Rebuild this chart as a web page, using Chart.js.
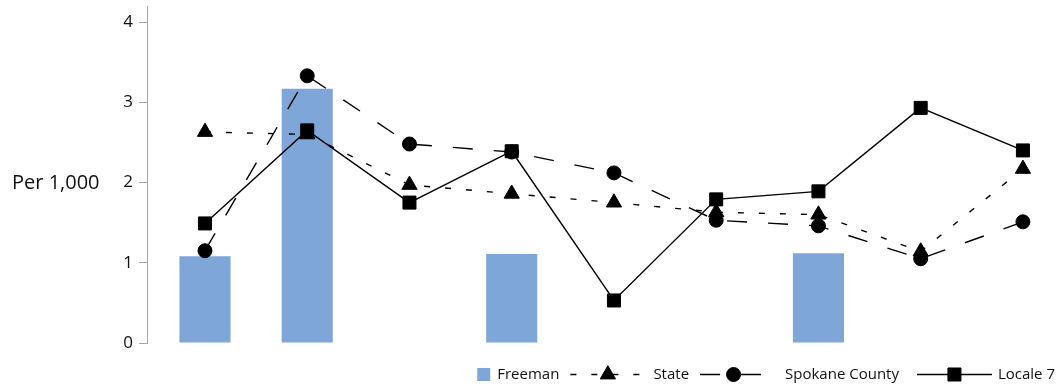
<!DOCTYPE html>
<html><head><meta charset="utf-8">
<script src="https://cdn.jsdelivr.net/npm/chart.js@4/dist/chart.umd.min.js"></script>
<style>html,body{margin:0;padding:0;background:#fff}#wrap{width:1058px;height:388px;position:relative}</style>
</head><body><div id="wrap"><canvas id="c"></canvas></div>
<script>
// ---- data ----
const categories = ['1','2','3','4','5','6','7','8','9'];
const freeman  = [1.08, 3.17, null, 1.11, null, null, 1.12, null, null];
const state    = [2.63, 2.60, 1.97, 1.86, 1.75, 1.63, 1.60, 1.14, 2.17];
const spokane  = [1.15, 3.33, 2.48, 2.38, 2.12, 1.53, 1.46, 1.05, 1.51];
const locale7  = [1.49, 2.65, 1.75, 2.39, 0.53, 1.79, 1.89, 2.93, 2.40];
const yTickValues = [0, 1, 2, 3, 4];
const seriesNames = ['Freeman', 'State', 'Spokane County', 'Locale 7'];
const yTitle = 'Per 1,000';

const toPts = arr => categories.map((c, i) => ({x: i, y: arr[i]}));
Chart.defaults.font.family = '"Open Sans", sans-serif';

const BAR = '#7ea6d8';
const legendPlugin = {
  id: 'customLegend',
  afterDraw(chart) {
    const ctx = chart.ctx;
    const ds = chart.data.datasets;
    ctx.save();
    // y title
    ctx.font = '20px "Open Sans"';
    ctx.fillStyle = '#111';
    ctx.textBaseline = 'middle';
    ctx.textAlign = 'left';
    ctx.fillText(yTitle, 12, chart.scales.y.getPixelForValue(2) + 1);
    // legend
    ctx.font = '15px "Open Sans"';
    const sampleW = [13, 75, 67, 75];
    const textGap = [7, 8, 18, 6];
    const itemGap = [11, 11, 18, 0];
    let total = 0;
    ds.forEach((d, i) => { total += sampleW[i] + textGap[i] + ctx.measureText(d.label).width + itemGap[i]; });
    let x = chart.width - 3 - total;
    const y = chart.height - 13.5;
    ds.forEach((d, i) => {
      if (d.type === 'bar') {
        ctx.fillStyle = d.backgroundColor;
        ctx.fillRect(x, y - 6.5, sampleW[i], 13);
      } else {
        ctx.strokeStyle = d.borderColor;
        ctx.lineWidth = d.borderWidth;
        ctx.setLineDash(d.borderDash || []);
        ctx.beginPath(); ctx.moveTo(x, y); ctx.lineTo(x + sampleW[i], y); ctx.stroke();
        ctx.setLineDash([]);
        ctx.fillStyle = d.pointBackgroundColor;
        ctx.strokeStyle = d.pointBorderColor;
        ctx.lineWidth = 1;
        const opts = {pointStyle: d.pointStyle, radius: d.pointRadius, borderWidth: 1, rotation: 0};
        Chart.helpers.drawPoint(ctx, opts, x + sampleW[i] / 2, y);
      }
      x += sampleW[i] + textGap[i];
      ctx.fillStyle = '#111';
      ctx.textBaseline = 'middle';
      ctx.fillText(d.label, x, y);
      x += ctx.measureText(d.label).width + itemGap[i];
    });
    ctx.restore();
  }
};

const lineDs = (label, arr, style, r, dash) => ({
  type: 'line', label, data: toPts(arr),
  borderColor: '#000', borderWidth: 1.4, borderDash: dash,
  pointStyle: style, pointRadius: r, pointHoverRadius: r,
  pointBackgroundColor: '#000', pointBorderColor: '#000', pointBorderWidth: 1,
  fill: false, tension: 0, order: 1
});

new Chart(document.getElementById('c'), {
  type: 'bar',
  data: {
    datasets: [
      {type: 'bar', label: seriesNames[0], data: toPts(freeman), backgroundColor: BAR,
       barPercentage: 0.5, categoryPercentage: 1, order: 5},
      lineDs(seriesNames[1], state, 'triangle', 8.8, [6, 15]),
      lineDs(seriesNames[2], spokane, 'circle', 7, [20, 21]),
      lineDs(seriesNames[3], locale7, 'rect', 9.2, [])
    ]
  },
  options: {
    responsive: true, maintainAspectRatio: false, animation: false,
    layout: {autoPadding: false, padding: {left: 0, right: 0, top: 6, bottom: 45}},
    plugins: {legend: {display: false}, tooltip: {enabled: false}},
    scales: {
      x: {type: 'linear', display: false, offset: false, min: -0.567, max: 8.343,
          ticks: {stepSize: 1, includeBounds: false}},
      y: {type: 'linear', min: 0, max: 4.2,
          afterBuildTicks(scale) { scale.ticks = yTickValues.map(v => ({value: v})); },
          ticks: {stepSize: 1, includeBounds: false, padding: 6, color: '#111', font: {size: 17}},
          grid: {drawOnChartArea: false, drawTicks: true, tickLength: 8, color: '#a6a6a6'},
          border: {color: '#a6a6a6', width: 1},
          afterFit(scale) { scale.width = 147; scale.paddingTop = 0; scale.paddingBottom = 0; }
      }
    }
  },
  plugins: [legendPlugin]
});
</script>
</body></html>
